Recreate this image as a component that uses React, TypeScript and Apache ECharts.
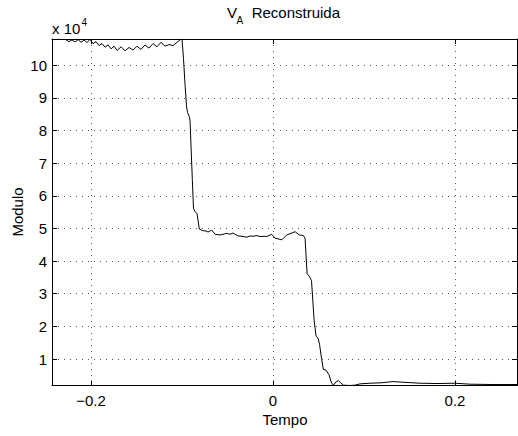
import React, { useEffect, useRef } from "react";
import * as echarts from "echarts";

// Tempo (s) and Modulo (x 10^4)
const tempo = [
  -0.2429, -0.234, -0.2275, -0.2242, -0.2209, -0.2176, -0.2143, -0.211, -0.2077, -0.2044,
  -0.2011, -0.1978, -0.1945, -0.1912, -0.1879, -0.1846, -0.1813, -0.178, -0.1747, -0.1714,
  -0.167, -0.1626, -0.1582, -0.1538, -0.1495, -0.1451, -0.1407, -0.1363, -0.1319, -0.1275,
  -0.1231, -0.1187, -0.1143, -0.1099, -0.1055, -0.1011,
  -0.1, -0.0984, -0.0967, -0.0951, -0.094, -0.0923, -0.0912, -0.0887, -0.0874, -0.0857,
  -0.0835, -0.081, -0.0769, -0.0736, -0.0714, -0.0674, -0.0637, -0.0582, -0.0549, -0.0509,
  -0.0473, -0.044, -0.0385, -0.0341, -0.0289, -0.0253, -0.022, -0.0176, -0.0143, -0.0099,
  -0.0069, -0.0014, 0.0022, 0.0055, 0.0096, 0.0121, 0.0151, 0.0198, 0.0242, 0.0289,
  0.0333, 0.0352, 0.0374, 0.0399, 0.0423, 0.0451, 0.0473, 0.0495, 0.0511, 0.0535,
  0.0553, 0.0582, 0.0615, 0.0643, 0.0663, 0.0692, 0.0718, 0.0744, 0.0773, 0.0846,
  0.0901, 0.0956, 0.1066, 0.1176, 0.1319, 0.1429, 0.1615, 0.1802, 0.2, 0.2165,
  0.2418, 0.2681,
];
const modulo = [
  10.78, 10.79, 10.78, 10.72, 10.77, 10.71, 10.78, 10.7, 10.77, 10.69,
  10.79, 10.66, 10.72, 10.6, 10.66, 10.55, 10.62, 10.5, 10.58, 10.45,
  10.56, 10.44, 10.54, 10.46, 10.58, 10.48, 10.62, 10.52, 10.66, 10.56,
  10.7, 10.58, 10.63, 10.6, 10.7, 10.8,
  10.78, 10.2, 9.4, 8.75, 8.55, 8.45, 8.3, 6.5, 5.6, 5.52,
  5.45, 4.98, 4.93, 4.92, 4.89, 4.95, 4.82, 4.8, 4.82, 4.85,
  4.82, 4.86, 4.77, 4.76, 4.73, 4.77, 4.76, 4.78, 4.75, 4.76,
  4.75, 4.82, 4.7, 4.68, 4.65, 4.72, 4.8, 4.85, 4.9, 4.8,
  4.78, 4.7, 3.62, 3.53, 3.4, 2.2, 1.7, 1.64, 1.45, 0.98,
  0.68, 0.66, 0.52, 0.27, 0.2, 0.3, 0.34, 0.27, 0.2, 0.19,
  0.2, 0.24, 0.26, 0.27, 0.31, 0.29, 0.26, 0.25, 0.26, 0.23,
  0.22, 0.22,
];

const xMin = -0.2429;
const xMax = 0.2681;
const yMin = 0.19;
const yMax = 10.8;

const FONT = '"Liberation Sans", Arial, Helvetica, sans-serif';

const fmtX = (v: number) => {
  if (Math.abs(v * 5 - Math.round(v * 5)) > 1e-6) return "";
  const r = Math.round(v * 10) / 10;
  if (r === 0) return "0";
  return r < 0 ? "\u2212" + Math.abs(r).toFixed(1) : r.toFixed(1);
};
const fmtY = (v: number) =>
  Math.abs(v - Math.round(v)) > 1e-6 ? "" : String(Math.round(v));

export default function App() {
  const ref = useRef<HTMLDivElement>(null);
  useEffect(() => {
    if (!ref.current) return;
    const chart = echarts.init(ref.current, undefined, { renderer: "svg" });
    const data = tempo.map((t, i) => [t, modulo[i]]);
    const axisLine = { show: true, onZero: false, lineStyle: { color: "#000", width: 1 } };
    const tick = { show: true, inside: true, length: 5, lineStyle: { color: "#000", width: 1 } };
    const split = { show: true, lineStyle: { color: "#555", width: 1, type: [1, 5] as any } };
    chart.setOption({
      animation: false,
      backgroundColor: "#fff",
      grid: { left: 52, top: 39, width: 465, height: 346.5, containLabel: false },
      xAxis: [
        {
          type: "value", min: xMin, max: xMax, minInterval: 0.2, maxInterval: 0.2, splitNumber: 3,
          position: "bottom", axisLine, axisTick: tick, splitLine: split,
          axisLabel: { formatter: fmtX, color: "#000", fontSize: 15, fontFamily: FONT, margin: 7, showMinLabel: false, showMaxLabel: false },
        },
        {
          type: "value", min: xMin, max: xMax, minInterval: 0.2, maxInterval: 0.2, splitNumber: 3,
          position: "top", axisLine, axisTick: tick, splitLine: { show: false }, axisLabel: { show: false },
        },
      ],
      yAxis: [
        {
          type: "value", min: yMin, max: yMax, minInterval: 1, maxInterval: 1, splitNumber: 10,
          position: "left", axisLine, axisTick: tick, splitLine: split,
          axisLabel: { formatter: fmtY, color: "#000", fontSize: 15, fontFamily: FONT, margin: 5, showMinLabel: false, showMaxLabel: false },
        },
        {
          type: "value", min: yMin, max: yMax, minInterval: 1, maxInterval: 1, splitNumber: 10,
          position: "right", axisLine, axisTick: tick, splitLine: { show: false }, axisLabel: { show: false },
        },
      ],
      series: [
        {
          type: "line", data, showSymbol: false, symbol: "none",
          lineStyle: { color: "#000", width: 1 }, xAxisIndex: 0, yAxisIndex: 0,
        },
      ],
      graphic: [
        { type: "text", x: 227, y: 12.5, style: { text: "V", font: `15px ${FONT}`, fill: "#000", verticalAlign: "middle" } },
        { type: "text", x: 236.5, y: 20.5, style: { text: "A", font: `10px ${FONT}`, fill: "#000", verticalAlign: "middle" } },
        { type: "text", x: 247.5, y: 12.5, style: { text: " Reconstruida", font: `15px ${FONT}`, fill: "#000", verticalAlign: "middle" } },
        { type: "text", x: 52, y: 28, style: { text: "x 10", font: `15px ${FONT}`, fill: "#000", verticalAlign: "middle" } },
        { type: "text", x: 81.5, y: 22, style: { text: "4", font: `10px ${FONT}`, fill: "#000", verticalAlign: "middle" } },
        { type: "text", x: 285, y: 419, style: { text: "Tempo", font: `15px ${FONT}`, fill: "#000", align: "center", verticalAlign: "middle" } },
        { type: "text", x: 17, y: 212, rotation: Math.PI / 2, style: { text: "Modulo", font: `15px ${FONT}`, fill: "#000", align: "center", verticalAlign: "middle" } },
      ],
    });
    return () => chart.dispose();
  }, []);
  return (
    <div
      ref={ref}
      style={{ position: "fixed", left: 0, top: 0, width: 518, height: 436 }}
    />
  );
}
